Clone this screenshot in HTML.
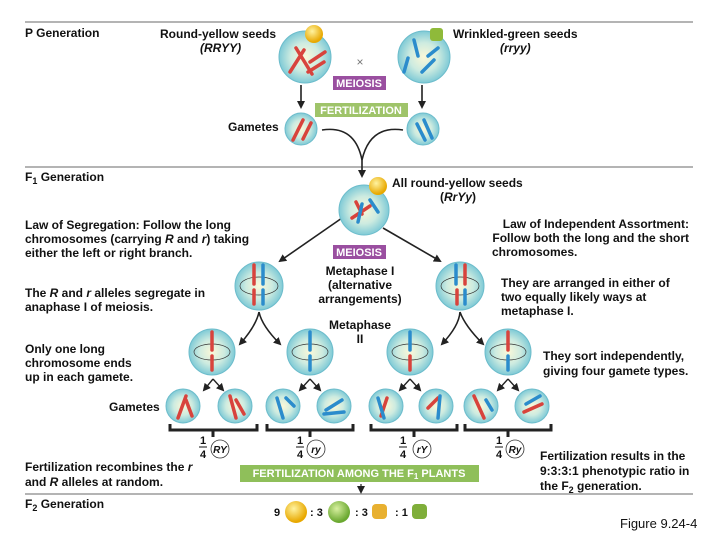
<!DOCTYPE html>
<html><head><meta charset="utf-8"><style>
body{margin:0;background:#fff;}
svg{display:block;font-family:"Liberation Sans",Arial,sans-serif;}
.t{font-size:12px;font-weight:bold;fill:#111;}
</style></head><body>
<svg width="720" height="540" viewBox="0 0 720 540" xmlns="http://www.w3.org/2000/svg">
<defs>
<radialGradient id="cg" cx="50%" cy="50%" r="50%">
<stop offset="0" stop-color="#fbf8d8"/><stop offset="0.55" stop-color="#cdebe0"/><stop offset="1" stop-color="#7fcad6"/></radialGradient>
<radialGradient id="yg" cx="40%" cy="35%" r="60%"><stop offset="0" stop-color="#fff3a0"/><stop offset="1" stop-color="#e8a800"/></radialGradient>
<radialGradient id="gg" cx="40%" cy="35%" r="60%"><stop offset="0" stop-color="#d8f0a0"/><stop offset="1" stop-color="#6aa830"/></radialGradient>
<marker id="ar" markerWidth="8" markerHeight="8" refX="6" refY="4" orient="auto" markerUnits="userSpaceOnUse"><path d="M0,0 L8,4 L0,8 z" fill="#222"/></marker>
</defs>
<g stroke="#888" stroke-width="1.2">
<line x1="25" y1="22" x2="693" y2="22"/><line x1="25" y1="167" x2="693" y2="167"/><line x1="25" y1="494" x2="693" y2="494"/>
</g>
<text class="t" x="25" y="37">P Generation</text>
<text class="t" x="160" y="38">Round-yellow seeds</text>
<text class="t" x="200" y="52" font-style="italic">(RRYY)</text>
<text class="t" x="453" y="38">Wrinkled-green seeds</text>
<text class="t" x="500" y="52" font-style="italic">(rryy)</text>
<text x="360" y="66" font-size="12" fill="#777" text-anchor="middle">×</text>
<rect x="333" y="76" width="53" height="14" fill="#9a4fa0"/>
<text x="359" y="87" font-size="11" font-weight="bold" fill="#fff" text-anchor="middle">MEIOSIS</text>
<rect x="315" y="103" width="93" height="14" fill="#9fc46a"/>
<text x="361" y="114" font-size="11" font-weight="bold" fill="#fff" text-anchor="middle">FERTILIZATION</text>
<text class="t" x="228" y="131">Gametes</text>
<text class="t" x="25" y="181">F<tspan font-size="9" dy="3">1</tspan><tspan dy="-3"> Generation</tspan></text>
<text class="t" x="392" y="187">All round-yellow seeds</text>
<text class="t" x="440" y="201">(<tspan font-style="italic">RrYy</tspan>)</text>
<text class="t" x="25" y="229">Law of Segregation: Follow the long</text>
<text class="t" x="25" y="243">chromosomes (carrying <tspan font-style="italic">R</tspan> and <tspan font-style="italic">r</tspan>) taking</text>
<text class="t" x="25" y="257">either the left or right branch.</text>
<text class="t" x="25" y="297">The <tspan font-style="italic">R</tspan> and <tspan font-style="italic">r</tspan> alleles segregate in</text>
<text class="t" x="25" y="311">anaphase I of meiosis.</text>
<text class="t" x="25" y="353">Only one long</text>
<text class="t" x="25" y="367">chromosome ends</text>
<text class="t" x="25" y="381">up in each gamete.</text>
<text class="t" x="109" y="411">Gametes</text>
<text class="t" x="25" y="471">Fertilization recombines the <tspan font-style="italic">r</tspan></text>
<text class="t" x="25" y="486">and <tspan font-style="italic">R</tspan> alleles at random.</text>
<text class="t" x="25" y="508">F<tspan font-size="9" dy="3">2</tspan><tspan dy="-3"> Generation</tspan></text>
<text class="t" x="689" y="228" text-anchor="end">Law of Independent Assortment:</text>
<text class="t" x="689" y="242" text-anchor="end">Follow both the long and the short</text>
<text class="t" x="492" y="256">chromosomes.</text>
<text class="t" x="501" y="287">They are arranged in either of</text>
<text class="t" x="501" y="301">two equally likely ways at</text>
<text class="t" x="501" y="315">metaphase I.</text>
<text class="t" x="543" y="360">They sort independently,</text>
<text class="t" x="543" y="375">giving four gamete types.</text>
<text class="t" x="540" y="460">Fertilization results in the</text>
<text class="t" x="540" y="475">9:3:3:1 phenotypic ratio in</text>
<text class="t" x="540" y="490">the F<tspan font-size="9" dy="3">2</tspan><tspan dy="-3"> generation.</tspan></text>
<text x="620" y="528" font-size="13" fill="#111">Figure 9.24-4</text>
<rect x="333" y="245" width="53" height="14" fill="#9a4fa0"/>
<text x="359" y="256" font-size="11" font-weight="bold" fill="#fff" text-anchor="middle">MEIOSIS</text>
<text class="t" x="360" y="275" text-anchor="middle">Metaphase I</text>
<text class="t" x="360" y="289" text-anchor="middle">(alternative</text>
<text class="t" x="360" y="303" text-anchor="middle">arrangements)</text>
<text class="t" x="360" y="329" text-anchor="middle">Metaphase</text>
<text class="t" x="360" y="343" text-anchor="middle">II</text>
<g stroke="#222" stroke-width="1.6" fill="none">
<line x1="301" y1="85" x2="301" y2="107" marker-end="url(#ar)"/>
<line x1="422" y1="85" x2="422" y2="107" marker-end="url(#ar)"/>
<path d="M322,130 Q355,125 362,160 Q370,125 403,130"/>
<line x1="362" y1="158" x2="362" y2="176" marker-end="url(#ar)"/>
<line x1="342" y1="218" x2="280" y2="261" marker-end="url(#ar)"/>
<line x1="383" y1="228" x2="440" y2="261" marker-end="url(#ar)"/>
<path d="M259,312 Q256,326 240,344" marker-end="url(#ar)"/><path d="M259,312 Q262,326 280,344" marker-end="url(#ar)"/>
<path d="M460,312 Q459,326 442,344" marker-end="url(#ar)"/><path d="M460,312 Q465,326 483,344" marker-end="url(#ar)"/>
<g stroke-width="1.4">
<path d="M213,379 L204,390" marker-end="url(#ar)"/><path d="M213,379 L223,390" marker-end="url(#ar)"/>
<path d="M310,379 L300,390" marker-end="url(#ar)"/><path d="M310,379 L320,390" marker-end="url(#ar)"/>
<path d="M410,379 L400,390" marker-end="url(#ar)"/><path d="M410,379 L420,390" marker-end="url(#ar)"/>
<path d="M508,379 L498,390" marker-end="url(#ar)"/><path d="M508,379 L518,390" marker-end="url(#ar)"/>
</g>
<g stroke-width="3">
<path d="M170,424 V430 H257 V424 M213,430 V437"/>
<path d="M267,424 V430 H353 V424 M310,430 V437"/>
<path d="M371,424 V430 H457 V424 M414,430 V437"/>
<path d="M465,424 V430 H551 V424 M508,430 V437"/>
</g>
<line x1="361" y1="484" x2="361" y2="492" stroke-width="1.2" marker-end="url(#ar)"/>
</g>
<g stroke="#6cbccb" stroke-width="1" fill="url(#cg)">
<circle cx="305" cy="57" r="26"/><circle cx="424" cy="57" r="26"/>
<circle cx="301" cy="129" r="16"/><circle cx="423" cy="129" r="16"/>
<circle cx="364" cy="210" r="25"/>
<circle cx="259" cy="286" r="24"/><circle cx="460" cy="286" r="24"/>
<circle cx="212" cy="352" r="23"/><circle cx="310" cy="352" r="23"/><circle cx="410" cy="352" r="23"/><circle cx="508" cy="352" r="23"/>
<circle cx="183" cy="406" r="17"/><circle cx="235" cy="406" r="17"/><circle cx="283" cy="406" r="17"/><circle cx="334" cy="406" r="17"/>
<circle cx="386" cy="406" r="17"/><circle cx="436" cy="406" r="17"/><circle cx="481" cy="406" r="17"/><circle cx="532" cy="406" r="17"/>
</g>
<g fill="none" stroke="#333" stroke-width="0.7">
<ellipse cx="259" cy="286" rx="19" ry="9"/><ellipse cx="460" cy="286" rx="19" ry="9"/>
<ellipse cx="212" cy="352" rx="18" ry="8"/><ellipse cx="310" cy="352" rx="18" ry="8"/><ellipse cx="410" cy="352" rx="18" ry="8"/><ellipse cx="508" cy="352" rx="18" ry="8"/>
</g>
<g stroke-linecap="round" stroke-width="3.5">
<g stroke="#d8433c">
<line x1="296" y1="48" x2="312" y2="74"/><line x1="290" y1="72" x2="304" y2="50"/><line x1="310" y1="62" x2="325" y2="52"/><line x1="308" y1="72" x2="324" y2="62"/>
<line x1="293" y1="140" x2="303" y2="120"/><line x1="303" y1="139" x2="311" y2="123"/>
<line x1="352" y1="218" x2="370" y2="206"/><line x1="356" y1="202" x2="362" y2="214"/>
<line x1="254" y1="265" x2="254" y2="284"/><line x1="254" y1="290" x2="254" y2="304"/>
<line x1="465" y1="265" x2="465" y2="284"/><line x1="457" y1="290" x2="457" y2="304"/>
<line x1="212" y1="332" x2="212" y2="350"/><line x1="212" y1="356" x2="212" y2="370"/>
<line x1="410" y1="356" x2="410" y2="370"/><line x1="508" y1="332" x2="508" y2="350"/>
<line x1="178" y1="418" x2="186" y2="396"/><line x1="186" y1="400" x2="192" y2="416"/>
<line x1="230" y1="396" x2="236" y2="418"/><line x1="236" y1="400" x2="244" y2="414"/>
<line x1="387" y1="398" x2="381" y2="416"/><line x1="428" y1="408" x2="438" y2="398"/>
<line x1="474" y1="396" x2="484" y2="418"/><line x1="524" y1="412" x2="542" y2="404"/>
</g>
<g stroke="#2b8ccc">
<line x1="414" y1="40" x2="418" y2="56"/><line x1="408" y1="58" x2="404" y2="72"/><line x1="428" y1="56" x2="438" y2="48"/><line x1="422" y1="72" x2="434" y2="60"/>
<line x1="417" y1="124" x2="425" y2="140"/><line x1="424" y1="120" x2="432" y2="138"/>
<line x1="370" y1="200" x2="378" y2="212"/><line x1="362" y1="204" x2="358" y2="222"/>
<line x1="263" y1="265" x2="263" y2="284"/><line x1="263" y1="290" x2="263" y2="304"/>
<line x1="456" y1="265" x2="456" y2="284"/><line x1="465" y1="290" x2="465" y2="304"/>
<line x1="310" y1="332" x2="310" y2="350"/><line x1="310" y1="356" x2="310" y2="370"/>
<line x1="410" y1="332" x2="410" y2="350"/><line x1="508" y1="356" x2="508" y2="370"/>
<line x1="277" y1="398" x2="283" y2="418"/><line x1="286" y1="398" x2="294" y2="406"/>
<line x1="326" y1="410" x2="342" y2="400"/><line x1="324" y1="414" x2="344" y2="412"/>
<line x1="378" y1="398" x2="384" y2="418"/><line x1="440" y1="396" x2="438" y2="418"/>
<line x1="486" y1="400" x2="492" y2="410"/><line x1="526" y1="404" x2="540" y2="396"/>
</g>
</g>
<circle cx="314" cy="34" r="9" fill="url(#yg)"/>
<rect x="430" y="28" width="13" height="13" rx="3" fill="#8fba3a"/>
<circle cx="378" cy="186" r="9" fill="url(#yg)"/>
<g font-size="11" font-weight="bold" text-anchor="middle" fill="#111">
<text x="203" y="444">1</text><line x1="199" y1="447" x2="207" y2="447" stroke="#111"/><text x="203" y="458">4</text>
<text x="300" y="444">1</text><line x1="296" y1="447" x2="304" y2="447" stroke="#111"/><text x="300" y="458">4</text>
<text x="403" y="444">1</text><line x1="399" y1="447" x2="407" y2="447" stroke="#111"/><text x="403" y="458">4</text>
<text x="499" y="444">1</text><line x1="495" y1="447" x2="503" y2="447" stroke="#111"/><text x="499" y="458">4</text>
</g>
<g fill="#fff" stroke="#333" stroke-width="0.8">
<circle cx="220" cy="449" r="9"/><circle cx="316" cy="449" r="9"/><circle cx="422" cy="449" r="9"/><circle cx="515" cy="449" r="9"/>
</g>
<g font-size="10" font-weight="bold" font-style="italic" text-anchor="middle" fill="#111">
<text x="220" y="453">RY</text><text x="316" y="453">ry</text><text x="422" y="453">rY</text><text x="515" y="453">Ry</text>
</g>
<rect x="240" y="465" width="239" height="17" fill="#8fbf5a"/>
<text x="359" y="477" font-size="11" font-weight="bold" fill="#fff" text-anchor="middle">FERTILIZATION AMONG THE F<tspan font-size="8" dy="2">1</tspan><tspan dy="-2"> PLANTS</tspan></text>
<g font-size="11" font-weight="bold" fill="#111">
<text x="274" y="516">9</text><text x="310" y="516">: 3</text><text x="355" y="516">: 3</text><text x="395" y="516">: 1</text>
</g>
<circle cx="296" cy="512" r="11" fill="url(#yg)"/>
<circle cx="339" cy="512" r="11" fill="url(#gg)"/>
<rect x="372" y="504" width="15" height="15" rx="4" fill="#e8b030"/>
<rect x="412" y="504" width="15" height="15" rx="4" fill="#7fae3a"/>
</svg>
</body></html>
